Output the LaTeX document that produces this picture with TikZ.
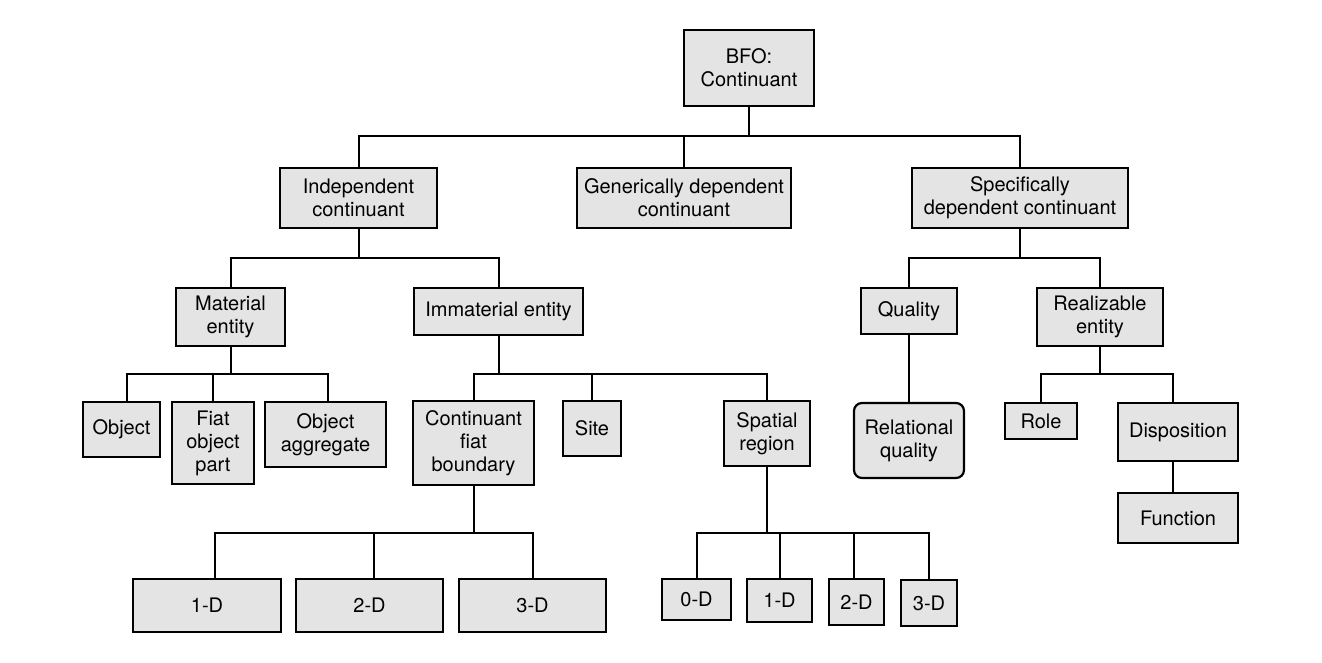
\documentclass[tikz,border=0pt]{standalone}
\usepackage{fontspec}
\setmainfont{TeX Gyre Heros}
\usepackage{tikz}
\usetikzlibrary{positioning}

\definecolor{boxgray}{HTML}{E4E4E4}

\begin{document}
\begin{tikzpicture}[
    x=1pt, y=-1pt,
    box/.style = {draw, line width=2.2pt, fill=boxgray, align=center, inner sep=0pt,
                  font=\fontsize{20}{23}\selectfont},
    roundbox/.style = {box, rounded corners=8pt},
    link/.style = {line width=2pt}
  ]
  \useasboundingbox (0,0) rectangle (1322,663);

  % Root
  \node[box, minimum width=130, minimum height=76] (bfo) at (749,68) {BFO:\\Continuant};

  % Second level
  \node[box, minimum width=157, minimum height=60] (ind) at (358.5,198) {Independent\\continuant};
  \node[box, minimum width=214, minimum height=60] (gen) at (684,198) {Generically dependent\\continuant};
  \node[box, minimum width=216, minimum height=60] (spec) at (1020,198) {Specifically\\dependent continuant};

  % Third level
  \node[box, minimum width=109, minimum height=58] (mat) at (230.5,317) {Material\\entity};
  \node[box, minimum width=169, minimum height=47] (imm) at (498.5,311.5) {Immaterial entity};
  \node[box, minimum width=96, minimum height=46] (qual) at (909,311) {Quality};
  \node[box, minimum width=126, minimum height=58] (real) at (1100,317) {Realizable\\entity};

  % Fourth level
  \node[box, minimum width=77, minimum height=55] (obj) at (121.5,429.5) {Object};
  \node[box, minimum width=82, minimum height=82] (fiat) at (213,443) {Fiat\\object\\part};
  \node[box, minimum width=121, minimum height=65] (agg) at (325.5,434.5) {Object\\aggregate};
  \node[box, minimum width=121, minimum height=84] (cfb) at (473.5,443) {Continuant\\fiat\\boundary};
  \node[box, minimum width=58, minimum height=55] (site) at (592,428.5) {Site};
  \node[box, minimum width=86, minimum height=65] (spr) at (767,433.5) {Spatial\\region};
  \node[roundbox, minimum width=110, minimum height=75] (relq) at (909,440.5) {Relational\\quality};
  \node[box, minimum width=72, minimum height=36] (role) at (1041,421) {Role};
  \node[box, minimum width=120, minimum height=58] (disp) at (1178,432) {Disposition};
  \node[box, minimum width=120, minimum height=50] (func) at (1178,518) {Function};

  % Bottom level
  \node[box, minimum width=148, minimum height=53] (fb1) at (207,605.5) {1-D};
  \node[box, minimum width=147, minimum height=53] (fb2) at (369.5,605.5) {2-D};
  \node[box, minimum width=147, minimum height=53] (fb3) at (532.5,605.5) {3-D};
  \node[box, minimum width=69, minimum height=41] (sr0) at (696.5,599.5) {0-D};
  \node[box, minimum width=65, minimum height=43] (sr1) at (779.5,600.5) {1-D};
  \node[box, minimum width=55, minimum height=46] (sr2) at (856.5,602) {2-D};
  \node[box, minimum width=56, minimum height=46] (sr3) at (929,603) {3-D};

  % Links from the root
  \draw[link] (bfo.south) -- ++(0,29) coordinate (j1);
  \draw[link] (ind.north) |- (j1) -| (spec.north);
  \draw[link] (gen.north) |- (j1);

  % Links below independent continuant
  \draw[link] (ind.south) -- ++(0,29) coordinate (j2);
  \draw[link] (mat.north) |- (j2) -| (imm.north);

  % Links below specifically dependent continuant
  \draw[link] (spec.south) -- ++(0,29) coordinate (j3);
  \draw[link] (qual.north) |- (j3) -| (real.north);

  % Links below material entity
  \draw[link] (mat.south) -- ++(0,27) coordinate (j4);
  \draw[link] ([xshift=5.5pt]obj.north) |- (j4) -| ([xshift=2.5pt]agg.north);
  \draw[link] (fiat.north) |- (j4);

  % Links below immaterial entity
  \draw[link] (imm.south) -- ++(0,38) coordinate (j5);
  \draw[link] (cfb.north) |- (j5) -| (spr.north);
  \draw[link] (site.north) |- (j5);

  % Quality and realizable entity
  \draw[link] (qual.south) -- (relq.north);
  \draw[link] (real.south) -- ++(0,27) coordinate (j6);
  \draw[link] (role.north) |- (j6) -| ([xshift=-5pt]disp.north);
  \draw[link] ([xshift=-5pt]disp.south) -- ([xshift=-5pt]func.north);

  % Links below continuant fiat boundary
  \draw[link] (cfb.south) -- ++(0,47) coordinate (j7);
  \draw[link] ([xshift=8pt]fb1.north) |- (j7) -| (fb3.north);
  \draw[link] ([xshift=4.5pt]fb2.north) |- (j7);

  % Links below spatial region
  \draw[link] (spr.south) -- ++(0,66) coordinate (j8);
  \draw[link] (sr0.north) |- (j8) -| (sr3.north);
  \draw[link] (sr1.north) |- (j8);
  \draw[link] ([xshift=-2.5pt]sr2.north) |- (j8);

\end{tikzpicture}
\end{document}
